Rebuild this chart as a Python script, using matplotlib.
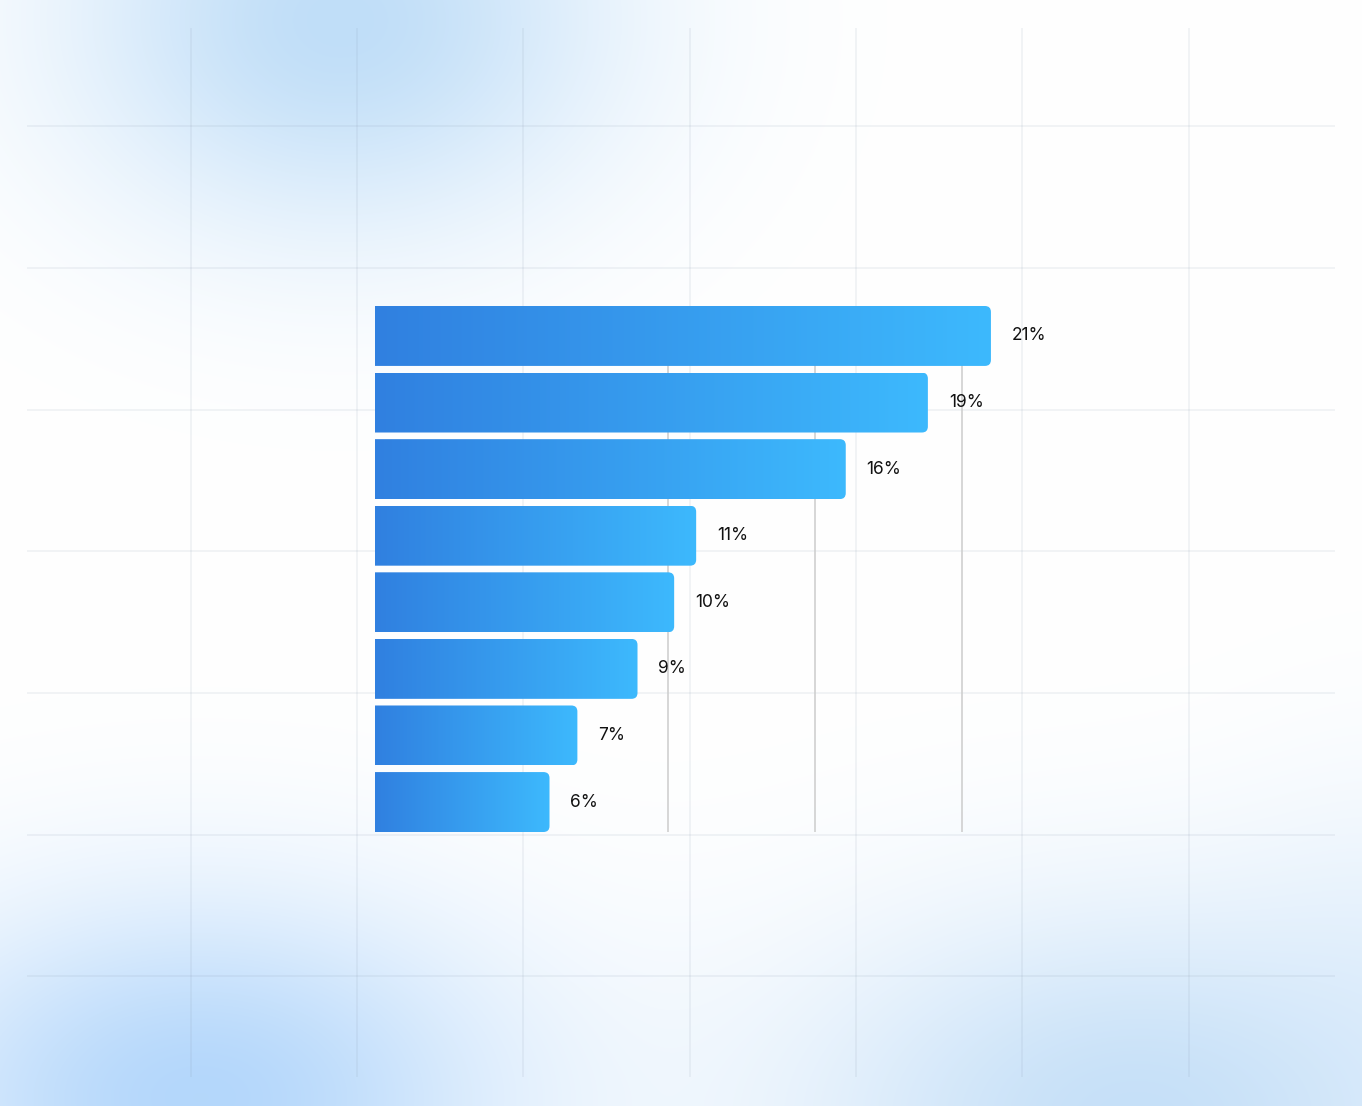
import numpy as np
import matplotlib
matplotlib.use("Agg")
import matplotlib.pyplot as plt
from matplotlib.path import Path
from matplotlib.patches import PathPatch
from matplotlib.colors import LinearSegmentedColormap

# ---- data ----
categories = ["A", "B", "C", "D", "E", "F", "G", "H"]
values = [21.0, 18.85, 16.05, 10.95, 10.2, 8.95, 6.9, 5.95]
labels = ["21%", "19%", "16%", "11%", "10%", "9%", "7%", "6%"]
value_ticks = [10, 15, 20]

W, H = 1362, 1109
DPI = 100
plt.rcParams['font.family'] = ['Inter', 'DejaVu Sans']

fig = plt.figure(figsize=(W / DPI, H / DPI), dpi=DPI)
fig.patch.set_facecolor("white")

# ---- soft blue background blobs ----
bg = fig.add_axes([0, 0, 1, 1], zorder=0)
yy, xx = np.mgrid[0:H, 0:W].astype(float)
blobs = [  # (cx, cy, sx, sy, strength, rgb)
    (340, 20, 190, 150, 1.0, (192, 222, 248)),
    (200, 1100, 220, 140, 1.0, (180, 215, 251)),
    (1140, 1120, 250, 150, 1.0, (198, 224, 248)),
    (1400, 1000, 120, 160, 0.35, (205, 228, 250)),
]
img = np.ones((H, W, 3))
for cx, cy, sx, sy, s, rgb in blobs:
    a = s * np.exp(-(((xx - cx) / sx) ** 2 + ((yy - cy) / sy) ** 2) / 2)
    c = np.array(rgb) / 255.0
    img = img * (1 - a[..., None]) + c * a[..., None]
bg.imshow(img, extent=(0, W, H - 3, 0), aspect="auto", interpolation="bilinear")
bg.set_xlim(0, W)
bg.set_ylim(H, 0)
bg.axis("off")

# ---- decorative grid ----
deco = fig.add_axes([27 / W, 1 - 1077 / H, (1335 - 27) / W, (1077 - 28) / H], zorder=1)
deco.set_xlim(27, 1335)
deco.set_ylim(1077, 28)
deco.patch.set_alpha(0)
deco.set_xticks([191, 357, 523, 690, 856, 1022, 1189])
deco.set_yticks([126, 268, 410, 551, 693, 835, 976])
deco.grid(True, color="#8090A8", alpha=0.13, lw=1.1)
deco.tick_params(length=0, labelbottom=False, labelleft=False)
for sp in deco.spines.values():
    sp.set_visible(False)

# ---- bar chart ----
x0_px, px_per_unit = 375, 29.33
xmax = 22
ax = fig.add_axes([x0_px / W, 1 - 832 / H, xmax * px_per_unit / W, (832 - 306) / H], zorder=2)
ax.patch.set_alpha(0)
ypos = np.arange(len(values))
bh = 0.9
bars = ax.barh(ypos, values, height=bh, color="none", edgecolor="none", zorder=3)
ax.set_xlim(0, xmax)
ax.set_ylim(len(values) - 1 + bh / 2, -bh / 2)
ax.set_xticks(value_ticks)
ax.set_yticks([])
ax.grid(True, axis="x", color="#CCCCCC", lw=1.1, zorder=0)
ax.set_axisbelow(True)
ax.tick_params(length=0, labelbottom=False)
for sp in ax.spines.values():
    sp.set_visible(False)

cmap = LinearSegmentedColormap.from_list("g", ["#3080E0", "#3DB9FD"])
grad = np.linspace(0, 1, 256)[None, :]
rx = 6 / px_per_unit
ry = 6 / ((832 - 306) / (len(values) - 1 + bh))

for rect, v, lab in zip(bars.patches, values, labels):
    x0, y0 = rect.get_x(), rect.get_y()
    w, h = rect.get_width(), rect.get_height()
    x1, y1 = x0 + w, y0 + h
    verts = [(x0, y0), (x1 - rx, y0), (x1, y0), (x1, y0 + ry),
             (x1, y1 - ry), (x1, y1), (x1 - rx, y1), (x0, y1), (x0, y0)]
    codes = [Path.MOVETO, Path.LINETO, Path.CURVE3, Path.CURVE3,
             Path.LINETO, Path.CURVE3, Path.CURVE3, Path.LINETO, Path.CLOSEPOLY]
    clip = PathPatch(Path(verts, codes), facecolor="none", edgecolor="none",
                     transform=ax.transData)
    ax.add_patch(clip)
    im = ax.imshow(grad, cmap=cmap, extent=(x0, x1, y1, y0), aspect="auto",
                   interpolation="bicubic", zorder=3)
    im.set_clip_path(clip)
    ax.annotate(lab, xy=(v, rect.get_y() + h / 2), xytext=(15, 0),
                textcoords="offset points", va="center", ha="left",
                fontsize=12.5, color="#111111", zorder=4)

ax.set_xlim(0, xmax)
ax.set_ylim(len(values) - 1 + bh / 2, -bh / 2)

fig.savefig("out.png", dpi=DPI, facecolor="white")
